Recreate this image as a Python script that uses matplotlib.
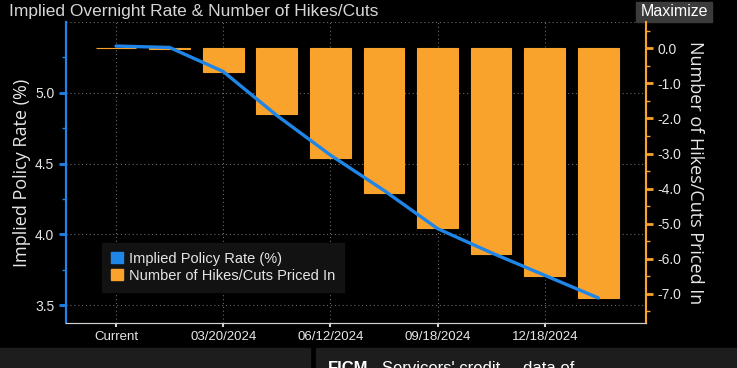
import matplotlib
matplotlib.use("Agg")
import matplotlib.pyplot as plt
from matplotlib.lines import Line2D
from matplotlib.patches import Patch, Rectangle

plt.rcParams["font.family"] = ["Liberation Sans", "DejaVu Sans"]

meetings = ["Current", "01/31/2024", "03/20/2024", "05/01/2024", "06/12/2024",
            "07/31/2024", "09/18/2024", "11/07/2024", "12/18/2024", "01/29/2025"]
implied_rate = [5.33, 5.32, 5.15, 4.84, 4.56, 4.31, 4.04, 3.87, 3.71, 3.55]
hikes_cuts = [0.0, -0.03, -0.68, -1.88, -3.12, -4.12, -5.13, -5.86, -6.49, -7.12]
shown_ticks = [0, 2, 4, 6, 8]
rate_ticks = [3.5, 4.0, 4.5, 5.0]
count_ticks = [0, -1, -2, -3, -4, -5, -6, -7]

BLUE = "#1f86e8"
ORANGE = "#f9a22c"
TXT = "#e6e6e6"
GRID = "#6a6a6a"
LABEL_FONT = ["Open Sans", "DejaVu Sans"]

fig = plt.figure(figsize=(7.37, 3.68), dpi=100, facecolor="black")

# title strip + fake "Maximize" button
fig.text(0.012, 0.968, "Implied Overnight Rate & Number of Hikes/Cuts",
         color="#d6d6d6", fontsize=12.5, va="center", ha="left")
fig.patches.append(Rectangle((636 / 737, 1 - 22 / 368), 76 / 737, 20 / 368,
                             transform=fig.transFigure, color="#3b3b3b"))
fig.text(674 / 737, 0.968, "Maximize", color="white", fontsize=11.5,
         ha="center", va="center")

# bottom panels (next news item peeking in)
fig.patches.append(Rectangle((0, 0), 310 / 737, 20 / 368,
                             transform=fig.transFigure, color="#1d1d1d"))
fig.patches.append(Rectangle((316 / 737, 0), 421 / 737, 20 / 368,
                             transform=fig.transFigure, color="#1d1d1d"))
fig.text(328 / 737, -0.022, "FICM", color="white", fontsize=12,
         fontweight="bold", va="bottom")
fig.text(382 / 737, -0.022, "Servicers' credit ... data of", color="white",
         fontsize=12, va="bottom")

ax = fig.add_axes([66 / 737, 45 / 368, 580 / 737, 301 / 368])
ax2 = ax.twinx()
ax2.set_zorder(1)
ax.set_zorder(2)
ax.patch.set_visible(False)
ax2.set_facecolor("black")

x = list(range(len(meetings)))

# bars on the right axis
ax2.bar(x, hikes_cuts, width=0.76, color=ORANGE, edgecolor=ORANGE, linewidth=0.8,
        zorder=3)
ax2.set_ylim(-7.83, 0.75)
ax2.set_yticks(count_ticks)
ax2.set_yticks([v - 0.5 for v in count_ticks] + [0.5], minor=True)
ax2.set_yticklabels([f"{v:.1f}" for v in count_ticks])
ax2.set_ylabel("Number of Hikes/Cuts Priced In", color=TXT, fontsize=13,
               rotation=-90, labelpad=16, family=LABEL_FONT)

# dotted grid behind the bars
for t in rate_ticks + [5.5]:
    ax2.add_line(Line2D([0, 1], [t, t], transform=ax.get_yaxis_transform(),
                        color=GRID, lw=0.8, ls=(0, (1, 2.5)), zorder=1))
for i in shown_ticks:
    ax2.axvline(i, color=GRID, lw=0.8, ls=(0, (1, 2.5)), zorder=1)

# rate line on the left axis
ax.plot(x, implied_rate, color=BLUE, lw=2.4, solid_capstyle="round", zorder=4)
ax.set_ylim(3.373, 5.5)
ax.set_yticks(rate_ticks)
ax.set_yticks([3.75, 4.25, 4.75, 5.25], minor=True)
ax.set_yticklabels([f"{v:.1f}" for v in rate_ticks])
ax.set_ylabel("Implied Policy Rate (%)", color=TXT, fontsize=13, labelpad=3,
              family=LABEL_FONT)
ax.set_xlim(-0.933, 9.89)
ax.set_xticks(shown_ticks)
ax.set_xticklabels([meetings[i] for i in shown_ticks])

for a in (ax, ax2):
    a.spines["top"].set_visible(False)
    a.spines["bottom"].set_color("#d0d0d0")
    a.spines["left"].set_color(BLUE)
    a.spines["right"].set_color(ORANGE)
    a.spines["left"].set_linewidth(1.5)
    a.spines["right"].set_linewidth(1.5)

ax.tick_params(axis="y", colors=BLUE, labelcolor=TXT, labelsize=10,
               length=5, width=2)
ax.tick_params(axis="y", which="minor", colors=BLUE, length=3, width=1)
ax.tick_params(axis="x", colors="#d0d0d0", labelcolor=TXT, labelsize=9.5,
               length=3, width=1.5, pad=3)
ax2.tick_params(axis="y", colors=ORANGE, labelcolor=TXT, labelsize=10,
                length=5, width=2)
ax2.tick_params(axis="y", which="minor", colors=ORANGE, length=3, width=1)

handles = [Patch(color=BLUE), Patch(color=ORANGE)]
leg = ax.legend(handles, ["Implied Policy Rate (%)", "Number of Hikes/Cuts Priced In"],
                loc="lower left", bbox_to_anchor=(0.05, 0.08), frameon=True,
                facecolor="#121212", edgecolor="#121212", framealpha=1,
                fontsize=10.5, handlelength=0.8, handleheight=0.8,
                handletextpad=0.4, labelspacing=0.2, borderpad=0.6,
                fancybox=False)
for t in leg.get_texts():
    t.set_color(TXT)

fig.savefig("out.png", dpi=100, facecolor="black")
